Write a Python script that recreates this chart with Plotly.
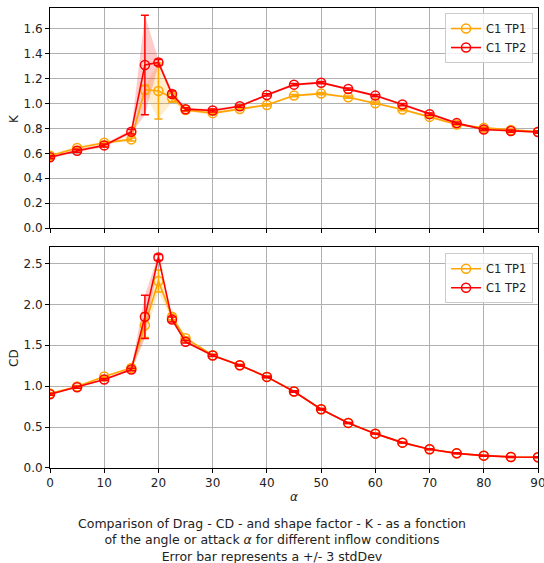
import plotly.graph_objects as go
import numpy as np

alpha = [0, 5, 10, 15, 17.5, 20, 22.5, 25, 30, 35, 40, 45, 50, 55, 60, 65, 70, 75, 80, 85, 90]

K_TP1 = [0.581, 0.643, 0.685, 0.712, 1.112, 1.101, 1.048, 0.949, 0.923, 0.957, 0.989,
         1.064, 1.080, 1.051, 1.003, 0.952, 0.893, 0.832, 0.805, 0.787, 0.773]
K_TP2 = [0.568, 0.621, 0.664, 0.773, 1.310, 1.331, 1.077, 0.955, 0.944, 0.979, 1.069,
         1.152, 1.168, 1.117, 1.064, 0.992, 0.915, 0.843, 0.792, 0.779, 0.771]
K_TP1_std = [0.004, 0.004, 0.004, 0.004, 0.012, 0.075, 0.012, 0.004, 0.004, 0.003, 0.003,
             0.003, 0.003, 0.003, 0.003, 0.003, 0.003, 0.003, 0.003, 0.003, 0.003]
K_TP2_std = [0.004, 0.004, 0.004, 0.006, 0.133, 0.008, 0.008, 0.004, 0.004, 0.003, 0.003,
             0.003, 0.003, 0.003, 0.003, 0.003, 0.003, 0.003, 0.003, 0.003, 0.003]

CD_TP1 = [0.909, 0.995, 1.117, 1.223, 1.745, 2.284, 1.847, 1.586, 1.378, 1.256, 1.113,
          0.934, 0.718, 0.551, 0.420, 0.310, 0.228, 0.179, 0.151, 0.135, 0.131]
CD_TP2 = [0.901, 0.987, 1.081, 1.203, 1.847, 2.573, 1.815, 1.542, 1.374, 1.256, 1.113,
          0.934, 0.718, 0.551, 0.420, 0.310, 0.228, 0.179, 0.151, 0.135, 0.131]
CD_TP1_std = [0.004, 0.004, 0.004, 0.005, 0.050, 0.045, 0.012, 0.005, 0.004, 0.003, 0.003,
              0.003, 0.003, 0.002, 0.002, 0.002, 0.002, 0.002, 0.002, 0.002, 0.002]
CD_TP2_std = [0.004, 0.004, 0.004, 0.005, 0.088, 0.012, 0.010, 0.005, 0.004, 0.003, 0.003,
              0.003, 0.003, 0.002, 0.002, 0.002, 0.002, 0.002, 0.002, 0.002, 0.002]

x_ticks = [0, 10, 20, 30, 40, 50, 60, 70, 80, 90]
K_ticks = [0.0, 0.2, 0.4, 0.6, 0.8, 1.0, 1.2, 1.4, 1.6]
CD_ticks = [0.0, 0.5, 1.0, 1.5, 2.0, 2.5]

series = [
    ("C1 TP1", "orange", "rgba(255,165,0,0.2)"),
    ("C1 TP2", "red", "rgba(255,0,0,0.2)"),
]

FONT = "DejaVu Sans"
fig = go.Figure()


def add_panel(values, stds, xa, ya, legend):
    # fills first
    for (name, col, fcol), v, s in zip(series, values, stds):
        v = np.array(v); s = 3 * np.array(s)
        xs = list(alpha) + list(alpha)[::-1]
        ys = list(v + s) + list((v - s)[::-1])
        fig.add_trace(go.Scatter(x=xs, y=ys, fill="toself", fillcolor=fcol,
                                 line=dict(width=0), mode="lines", hoverinfo="skip",
                                 showlegend=False, xaxis=xa, yaxis=ya))
    for (name, col, fcol), v, s in zip(series, values, stds):
        fig.add_trace(go.Scatter(
            x=alpha, y=v, name=name, mode="lines+markers",
            line=dict(color=col, width=1.6),
            marker=dict(symbol="circle-open", size=9, color=col, line=dict(width=1.5, color=col)),
            error_y=dict(type="data", array=list(3 * np.array(s)), color=col, thickness=1.5, width=4),
            xaxis=xa, yaxis=ya, legend=legend))


add_panel([K_TP1, K_TP2], [K_TP1_std, K_TP2_std], "x", "y", "legend")
add_panel([CD_TP1, CD_TP2], [CD_TP1_std, CD_TP2_std], "x2", "y2", "legend2")

axis_common = dict(showline=True, linecolor="black", linewidth=1, mirror=True,
                   showgrid=True, gridcolor="#b0b0b0", gridwidth=1,
                   ticks="outside", ticklen=4, tickcolor="black",
                   tickfont=dict(family=FONT, size=12, color="#222"), zeroline=False,
                   ticklabeloverflow="allow", automargin=False)

legend_common = dict(xanchor="right", yanchor="top",
                     bgcolor="rgba(255,255,255,0.8)", bordercolor="#cccccc", borderwidth=1,
                     font=dict(family=FONT, size=11.5, color="#222"), tracegroupgap=0,
                     itemwidth=30)

fig.update_layout(
    width=544, height=563,
    margin=dict(l=50, r=6, t=8, b=95, autoexpand=False),
    paper_bgcolor="white", plot_bgcolor="white",
    font=dict(family=FONT, size=12, color="#222"),
    xaxis=dict(domain=[0, 1], anchor="y", range=[0, 90], tickvals=x_ticks, showticklabels=False, **axis_common),
    yaxis=dict(domain=[0.5217, 1], anchor="x", range=[0, 1.768], tickvals=K_ticks,
               ticktext=[f"{t:.1f}" for t in K_ticks], **axis_common),
    xaxis2=dict(domain=[0, 1], anchor="y2", range=[0, 90], tickvals=x_ticks, **axis_common),
    yaxis2=dict(domain=[0, 0.4804], anchor="x2", range=[0, 2.70], tickvals=CD_ticks,
                ticktext=[f"{t:.1f}" for t in CD_ticks], **axis_common),
    legend=dict(x=0.9898, y=0.989, **legend_common),
    legend2=dict(x=0.9898, y=0.467, **legend_common),
    showlegend=True,
)

annotations = [
    dict(text="K", xref="paper", yref="paper", x=-0.0738, y=(468 - 118) / 460,
         xanchor="center", yanchor="middle",
         textangle=-90, showarrow=False, font=dict(family=FONT, size=12)),
    dict(text="CD", xref="paper", yref="paper", x=-0.0738, y=(468 - 358) / 460,
         xanchor="center", yanchor="middle",
         textangle=-90, showarrow=False, font=dict(family=FONT, size=12)),
    dict(text="<i>α</i>", xref="paper", yref="paper", x=0.5, y=(468 - 497) / 460,
         xanchor="center", yanchor="middle",
         showarrow=False, font=dict(family=FONT, size=12)),
    dict(text="Comparison of Drag - CD - and shape factor - K - as a fonction<br>"
              "of the angle or attack <i>α</i> for different inflow conditions<br>"
              "Error bar represents a +/- 3 stdDev",
         xref="paper", yref="paper", x=(272 - 50) / 488, y=(468 - 514) / 460,
         xanchor="center", yanchor="top", showarrow=False,
         font=dict(family=FONT, size=12.5)),
]
fig.update_layout(annotations=annotations)

fig.write_html("out.html", config={"displayModeBar": False},
               post_script="document.body.style.margin='0';")
